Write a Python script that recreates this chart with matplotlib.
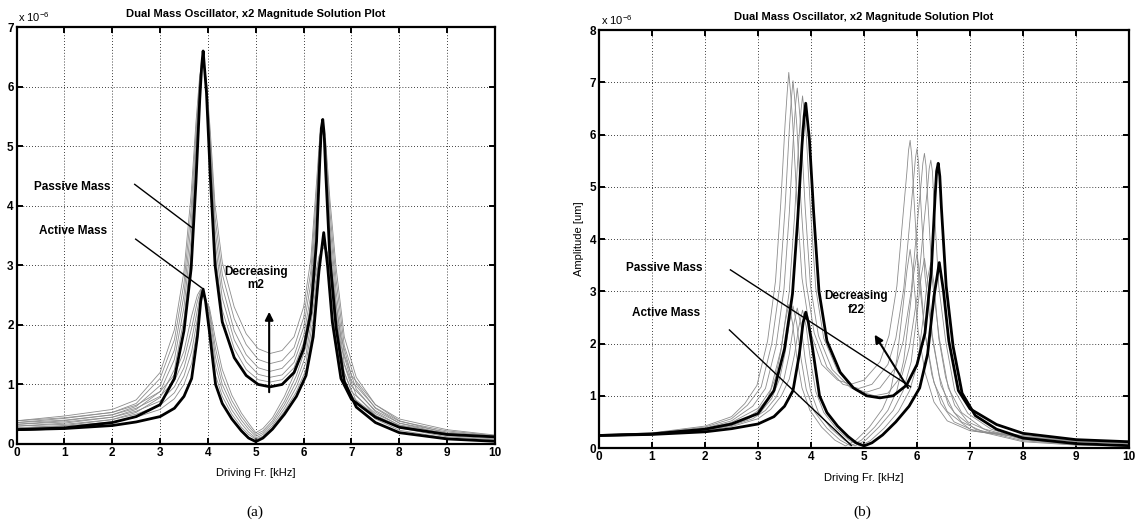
import matplotlib
matplotlib.use("Agg")
import matplotlib.pyplot as plt

plt.rcParams['font.family'] = ['Liberation Sans', 'DejaVu Sans']
plt.rcParams['mathtext.default'] = 'regular'

# ---------------- texts / ticks ----------------
title_text = "Dual Mass Oscillator, x2 Magnitude Solution Plot"
xlabel_text = "Driving Fr. [kHz]"
ylabel_b_text = "Amplitude [um]"
panel_labels = ["(a)", "(b)"]
x_ticks = [0, 1, 2, 3, 4, 5, 6, 7, 8, 9, 10]
y_ticks_a = [0, 1, 2, 3, 4, 5, 6, 7]
y_ticks_b = [0, 1, 2, 3, 4, 5, 6, 7, 8]

# ---------------- nominal (bold) curves, amplitude in 1e-6 ----------------
nom_passive_x = [0, 1, 2, 2.5, 3.0, 3.3, 3.5, 3.65, 3.75, 3.83, 3.87, 3.9, 3.93, 3.97, 4.05,
                 4.15, 4.3, 4.55, 4.8, 5.05, 5.3, 5.55, 5.8, 6.0, 6.15, 6.27, 6.34, 6.37, 6.4,
                 6.43, 6.46, 6.55, 6.68, 6.85, 7.1, 7.5, 8, 9, 10]
nom_passive_y = [0.24, 0.27, 0.36, 0.46, 0.66, 1.1, 1.9, 2.95, 4.4, 5.8, 6.35, 6.6, 6.3, 5.9, 4.5,
                 3.0, 2.05, 1.45, 1.15, 1.0, 0.96, 1.0, 1.2, 1.6, 2.2, 3.4, 4.8, 5.3, 5.45,
                 5.2, 4.6, 3.1, 1.95, 1.05, 0.62, 0.36, 0.19, 0.085, 0.045]

nom_active_x = [0, 1, 2, 2.5, 3.0, 3.3, 3.5, 3.66, 3.78, 3.85, 3.9, 3.95, 4.03, 4.16, 4.3,
                4.5, 4.7, 4.85, 5.0, 5.15, 5.35, 5.6, 5.85, 6.05, 6.2, 6.32, 6.42, 6.5, 6.6,
                6.78, 7.0, 7.5, 8, 9, 10]
nom_active_y = [0.24, 0.26, 0.31, 0.37, 0.46, 0.6, 0.8, 1.1, 1.8, 2.4, 2.6, 2.4, 1.9, 1.0, 0.68,
                0.42, 0.22, 0.1, 0.04, 0.1, 0.25, 0.5, 0.8, 1.15, 1.8, 2.9, 3.55, 3.0, 2.05,
                1.1, 0.75, 0.45, 0.28, 0.16, 0.12]

# ---------------- panel (a): decreasing m2 (thin curves, same x as nominal) ----------------
a_passive_thin = [
    [0.27, 0.31, 0.41, 0.53, 0.78, 1.25, 2.1, 3.2, 4.6, 5.9, 6.35, 6.55, 6.3, 5.95, 4.65,
     3.2, 2.25, 1.6, 1.25, 1.08, 1.04, 1.08, 1.28, 1.7, 2.35, 3.6, 4.9, 5.3, 5.4,
     5.2, 4.75, 3.3, 2.15, 1.2, 0.72, 0.42, 0.23, 0.1, 0.055],
    [0.3, 0.35, 0.45, 0.58, 0.88, 1.42, 2.3, 3.45, 4.8, 6.0, 6.35, 6.5, 6.3, 6.0, 4.8,
     3.4, 2.45, 1.75, 1.38, 1.17, 1.12, 1.16, 1.37, 1.82, 2.5, 3.8, 5.0, 5.3, 5.35,
     5.2, 4.9, 3.5, 2.35, 1.35, 0.82, 0.48, 0.27, 0.12, 0.07],
    [0.33, 0.39, 0.49, 0.63, 0.98, 1.58, 2.5, 3.7, 5.0, 6.1, 6.35, 6.45, 6.3, 6.05, 4.95,
     3.6, 2.65, 1.9, 1.5, 1.28, 1.22, 1.27, 1.48, 1.96, 2.7, 4.0, 5.1, 5.3, 5.3,
     5.2, 5.0, 3.7, 2.55, 1.5, 0.92, 0.54, 0.31, 0.14, 0.085],
    [0.36, 0.43, 0.53, 0.68, 1.1, 1.75, 2.7, 3.95, 5.2, 6.15, 6.35, 6.4, 6.3, 6.08, 5.1,
     3.8, 2.85, 2.1, 1.67, 1.42, 1.35, 1.4, 1.62, 2.12, 2.9, 4.2, 5.15, 5.3, 5.25,
     5.2, 5.05, 3.9, 2.75, 1.65, 1.02, 0.6, 0.35, 0.16, 0.1],
    [0.39, 0.47, 0.58, 0.74, 1.2, 1.92, 2.9, 4.2, 5.4, 6.2, 6.35, 6.35, 6.3, 6.1, 5.25,
     4.0, 3.05, 2.3, 1.85, 1.6, 1.52, 1.57, 1.8, 2.3, 3.1, 4.4, 5.2, 5.3, 5.2,
     5.15, 5.1, 4.1, 2.95, 1.8, 1.12, 0.66, 0.39, 0.18, 0.115],
]
a_active_thin = [
    [0.27, 0.3, 0.37, 0.45, 0.58, 0.76, 1.0, 1.35, 1.95, 2.45, 2.58, 2.45, 2.0, 1.15, 0.8,
     0.5, 0.28, 0.16, 0.08, 0.13, 0.28, 0.55, 0.88, 1.25, 1.95, 2.95, 3.5, 3.1, 2.2,
     1.22, 0.8, 0.48, 0.3, 0.17, 0.125],
    [0.3, 0.33, 0.41, 0.5, 0.65, 0.86, 1.14, 1.55, 2.1, 2.5, 2.56, 2.45, 2.1, 1.3, 0.9,
     0.57, 0.34, 0.2, 0.1, 0.16, 0.31, 0.6, 0.96, 1.37, 2.1, 3.0, 3.45, 3.15, 2.35,
     1.35, 0.88, 0.51, 0.32, 0.18, 0.13],
    [0.33, 0.37, 0.45, 0.55, 0.72, 0.96, 1.28, 1.75, 2.25, 2.55, 2.54, 2.45, 2.2, 1.45, 1.0,
     0.65, 0.4, 0.25, 0.13, 0.19, 0.35, 0.66, 1.05, 1.5, 2.28, 3.05, 3.4, 3.2, 2.5,
     1.5, 0.97, 0.56, 0.35, 0.2, 0.135],
    [0.36, 0.4, 0.49, 0.6, 0.8, 1.06, 1.42, 1.95, 2.4, 2.58, 2.52, 2.42, 2.25, 1.6, 1.12,
     0.73, 0.46, 0.3, 0.16, 0.22, 0.39, 0.72, 1.15, 1.64, 2.46, 3.1, 3.35, 3.2, 2.65,
     1.65, 1.06, 0.61, 0.38, 0.22, 0.14],
    [0.39, 0.44, 0.53, 0.65, 0.88, 1.16, 1.56, 2.15, 2.5, 2.6, 2.5, 2.4, 2.3, 1.75, 1.25,
     0.82, 0.52, 0.35, 0.19, 0.26, 0.44, 0.8, 1.26, 1.8, 2.65, 3.15, 3.3, 3.2, 2.8,
     1.8, 1.15, 0.66, 0.42, 0.24, 0.15],
]

# ---------------- panel (b): decreasing f22 (thin curves, own x) ----------------
b_passive_thin_x = [
    [0, 1, 2, 2.5, 2.75, 2.98, 3.18, 3.33, 3.43, 3.51, 3.55, 3.58, 3.61, 3.65, 3.73, 3.83, 3.98,
     4.2, 4.5, 4.75, 5.0, 5.3, 5.47, 5.62, 5.74, 5.81, 5.84, 5.87, 5.9, 5.93, 6.02, 6.15, 6.32,
     6.57, 7.0, 8, 9, 10],
    [0, 1, 2, 2.5, 2.8, 3.06, 3.26, 3.41, 3.51, 3.59, 3.63, 3.66, 3.69, 3.73, 3.81, 3.91, 4.06,
     4.3, 4.6, 4.9, 5.15, 5.45, 5.6, 5.75, 5.87, 5.94, 5.97, 6.0, 6.03, 6.06, 6.15, 6.28, 6.45,
     6.7, 7.1, 8, 9, 10],
    [0, 1, 2, 2.5, 2.9, 3.14, 3.34, 3.49, 3.59, 3.67, 3.71, 3.74, 3.77, 3.81, 3.89, 3.99, 4.14,
     4.4, 4.75, 5.05, 5.3, 5.6, 5.74, 5.89, 6.01, 6.08, 6.11, 6.14, 6.17, 6.2, 6.29, 6.42, 6.59,
     6.84, 7.25, 8, 9, 10],
    [0, 1, 2, 2.5, 3.0, 3.24, 3.44, 3.59, 3.69, 3.77, 3.81, 3.84, 3.87, 3.91, 3.99, 4.09, 4.24,
     4.5, 4.85, 5.2, 5.45, 5.72, 5.86, 6.01, 6.13, 6.2, 6.23, 6.26, 6.29, 6.32, 6.41, 6.54, 6.71,
     6.96, 7.4, 8, 9, 10],
]
b_passive_thin_y = [
    [0.25, 0.29, 0.42, 0.6, 0.85, 1.2, 2.05, 3.2, 4.7, 6.2, 6.8, 7.19, 6.85, 6.3, 4.8, 3.25, 2.25,
     1.6, 1.3, 1.22, 1.3, 1.65, 2.15, 3.1, 4.5, 5.3, 5.7, 5.89, 5.6, 5.0, 3.4, 2.2, 1.25,
     0.7, 0.36, 0.12, 0.055, 0.03],
    [0.25, 0.28, 0.4, 0.56, 0.82, 1.17, 2.0, 3.1, 4.6, 6.1, 6.7, 7.03, 6.7, 6.2, 4.7, 3.15, 2.2,
     1.55, 1.22, 1.14, 1.22, 1.6, 2.1, 3.05, 4.4, 5.2, 5.55, 5.73, 5.45, 4.9, 3.3, 2.15, 1.2,
     0.68, 0.36, 0.14, 0.062, 0.035],
    [0.25, 0.28, 0.38, 0.52, 0.8, 1.14, 1.95, 3.05, 4.5, 6.0, 6.6, 6.89, 6.6, 6.1, 4.6, 3.1, 2.15,
     1.5, 1.15, 1.07, 1.15, 1.55, 2.05, 3.0, 4.35, 5.1, 5.45, 5.64, 5.4, 4.8, 3.2, 2.1, 1.15,
     0.68, 0.37, 0.16, 0.07, 0.04],
    [0.25, 0.27, 0.37, 0.49, 0.76, 1.12, 1.92, 3.0, 4.45, 5.9, 6.45, 6.74, 6.45, 6.0, 4.55, 3.05, 2.1,
     1.48, 1.1, 1.0, 1.05, 1.4, 1.95, 2.95, 4.3, 5.0, 5.35, 5.51, 5.3, 4.7, 3.1, 2.05, 1.1,
     0.66, 0.36, 0.17, 0.077, 0.043],
]
b_active_thin_x = [
    [0, 1, 2, 2.5, 2.75, 2.98, 3.18, 3.33, 3.43, 3.51, 3.58, 3.65, 3.73, 3.83, 3.98, 4.2, 4.45,
     4.65, 4.85, 5.1, 5.35, 5.5, 5.62, 5.74, 5.81, 5.87, 5.93, 6.02, 6.15, 6.32, 6.57, 7.0,
     8, 9, 10],
    [0, 1, 2, 2.5, 2.8, 3.06, 3.26, 3.41, 3.51, 3.59, 3.66, 3.73, 3.81, 3.91, 4.06, 4.3, 4.55,
     4.75, 4.95, 5.2, 5.45, 5.62, 5.75, 5.87, 5.94, 6.0, 6.06, 6.15, 6.28, 6.45, 6.7, 7.1,
     8, 9, 10],
    [0, 1, 2, 2.5, 2.9, 3.14, 3.34, 3.49, 3.59, 3.67, 3.74, 3.81, 3.89, 3.99, 4.14, 4.38, 4.63,
     4.83, 5.03, 5.28, 5.55, 5.74, 5.89, 6.01, 6.08, 6.14, 6.2, 6.29, 6.42, 6.59, 6.84, 7.25,
     8, 9, 10],
    [0, 1, 2, 2.5, 3.0, 3.24, 3.44, 3.59, 3.69, 3.77, 3.84, 3.91, 3.99, 4.09, 4.24, 4.48, 4.72,
     4.92, 5.12, 5.38, 5.65, 5.86, 6.01, 6.13, 6.2, 6.26, 6.32, 6.41, 6.54, 6.71, 6.96, 7.4,
     8, 9, 10],
]
b_active_thin_y = [
    [0.25, 0.28, 0.36, 0.46, 0.55, 0.7, 0.95, 1.35, 1.85, 2.4, 2.75, 2.4, 1.75, 1.15, 0.72, 0.4, 0.15,
     0.04, 0.15, 0.4, 0.75, 1.1, 1.7, 2.75, 3.4, 3.8, 3.3, 2.25, 1.45, 0.88, 0.52, 0.33,
     0.2, 0.12, 0.085],
    [0.25, 0.27, 0.35, 0.44, 0.55, 0.7, 0.95, 1.33, 1.82, 2.38, 2.72, 2.38, 1.72, 1.12, 0.7, 0.38, 0.15,
     0.04, 0.15, 0.4, 0.72, 1.1, 1.68, 2.7, 3.35, 3.72, 3.25, 2.2, 1.4, 0.85, 0.5, 0.32,
     0.21, 0.13, 0.09],
    [0.25, 0.27, 0.34, 0.43, 0.56, 0.72, 0.97, 1.32, 1.8, 2.35, 2.68, 2.35, 1.7, 1.1, 0.68, 0.37, 0.15,
     0.04, 0.15, 0.4, 0.72, 1.1, 1.65, 2.65, 3.3, 3.63, 3.2, 2.15, 1.38, 0.83, 0.5, 0.31,
     0.22, 0.14, 0.095],
    [0.25, 0.26, 0.33, 0.41, 0.56, 0.74, 1.0, 1.32, 1.8, 2.32, 2.64, 2.32, 1.68, 1.08, 0.68, 0.37, 0.15,
     0.04, 0.14, 0.38, 0.7, 1.1, 1.62, 2.6, 3.25, 3.55, 3.15, 2.1, 1.35, 0.82, 0.5, 0.3,
     0.24, 0.15, 0.1],
]

# ---------------- annotations ----------------
a_labels = [("Passive Mass", 1.97, 4.31), ("Active Mass", 1.9, 3.57)]
a_pointers = [((2.47, 4.36), (3.69, 3.62)), ((2.49, 3.44), (3.89, 2.61))]
a_trend = ("Decreasing\nm2", 5.0, 2.78)
a_arrow = ((5.28, 0.87), (5.28, 2.22))

b_labels = [("Passive Mass", 1.96, 3.44), ("Active Mass", 1.9, 2.59)]
b_pointers = [((2.48, 3.41), (5.88, 1.17)), ((2.46, 2.26), (4.76, 0.05))]
b_trend = ("Decreasing\nf22", 4.85, 2.77)
b_arrow = ((5.83, 1.15), (5.2, 2.17))

# ---------------- figure ----------------
fig = plt.figure(figsize=(11.38, 5.29), dpi=100)
axA = fig.add_axes([0.0145, 0.1607, 0.4205, 0.788])
axB = fig.add_axes([0.5264, 0.1531, 0.4657, 0.790])

THIN = dict(color='0.55', linewidth=0.6)
BOLD = dict(color='black', linewidth=2.0)


def style(ax, ymax, yt):
    ax.set_xlim(0, 10)
    ax.set_ylim(0, ymax)
    ax.set_xticks(x_ticks)
    ax.set_yticks(yt)
    ax.grid(True, linestyle=(0, (1, 2.5)), color='black', linewidth=0.6)
    ax.set_axisbelow(True)
    ax.tick_params(direction='in', top=True, right=True, length=4, width=1.4,
                   labelsize=8.5, pad=2)
    for s in ax.spines.values():
        s.set_linewidth(1.6)
    for lab in ax.get_xticklabels() + ax.get_yticklabels():
        lab.set_fontweight('bold')
    ax.set_title(title_text, fontsize=8, fontweight='bold', pad=7)
    ax.set_xlabel(xlabel_text, fontsize=8, labelpad=7)
    ax.text(0.004, 1.008, r'x 10$^{-6}$', transform=ax.transAxes, fontsize=8,
            ha='left', va='bottom')


def annotate(ax, labels, pointers, trend, arrow):
    for txt, x, y in labels:
        ax.text(x, y, txt, fontsize=8.5, fontweight='bold', ha='right', va='center')
    for (p0, p1) in pointers:
        ax.plot([p0[0], p1[0]], [p0[1], p1[1]], color='black', linewidth=1.0)
    txt, x, y = trend
    ax.text(x, y, txt, fontsize=8.5, fontweight='bold', ha='center', va='center',
            linespacing=1.2)
    ax.annotate('', xy=arrow[1], xytext=arrow[0],
                arrowprops=dict(arrowstyle='-|>', color='black', lw=1.5,
                                mutation_scale=12, shrinkA=0, shrinkB=0))


# panel (a)
for ys in a_passive_thin:
    axA.plot(nom_passive_x, ys, **THIN)
for ys in a_active_thin:
    axA.plot(nom_active_x, ys, **THIN)
axA.plot(nom_passive_x, nom_passive_y, **BOLD)
axA.plot(nom_active_x, nom_active_y, **BOLD)
style(axA, 7, y_ticks_a)
annotate(axA, a_labels, a_pointers, a_trend, a_arrow)

# panel (b)
for xs, ys in zip(b_passive_thin_x, b_passive_thin_y):
    axB.plot(xs, ys, **THIN)
for xs, ys in zip(b_active_thin_x, b_active_thin_y):
    axB.plot(xs, ys, **THIN)
axB.plot(nom_passive_x, nom_passive_y, **BOLD)
axB.plot(nom_active_x, nom_active_y, **BOLD)
style(axB, 8, y_ticks_b)
axB.set_ylabel(ylabel_b_text, fontsize=8, labelpad=4)
annotate(axB, b_labels, b_pointers, b_trend, b_arrow)

fig.text(255 / 1138, 1 - 512 / 529, panel_labels[0], ha='center', va='center',
         family='Liberation Serif', fontsize=11)
fig.text(862 / 1138, 1 - 512 / 529, panel_labels[1], ha='center', va='center',
         family='Liberation Serif', fontsize=11)

fig.savefig("out.png", dpi=100, facecolor='white')
